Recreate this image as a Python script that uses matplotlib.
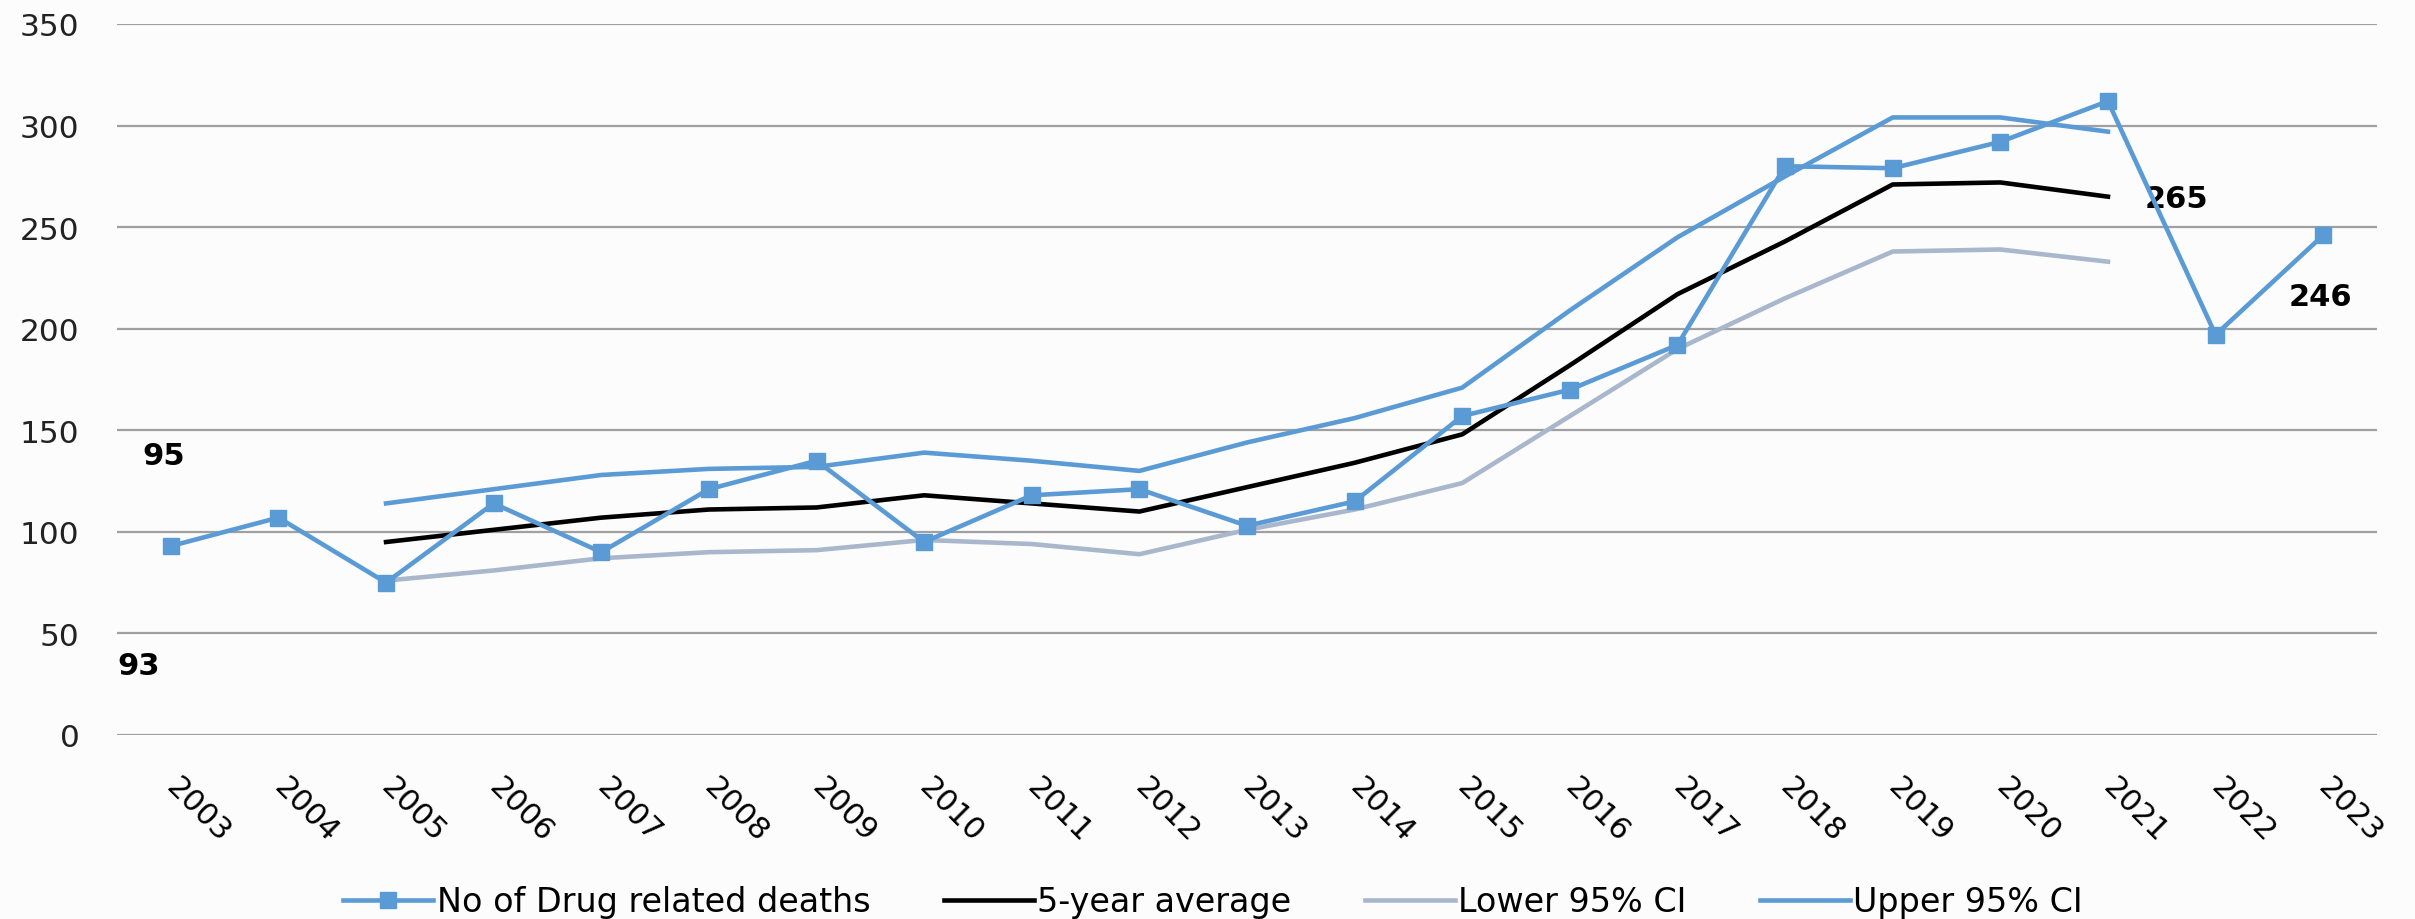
import matplotlib
matplotlib.use('Agg')
import matplotlib.pyplot as plt

# Data
years = [str(y) for y in range(2003, 2024)]
deaths = [93, 107, 75, 114, 90, 121, 135, 95, 118, 121, 103, 115, 157, 170, 192, 280, 279, 292, 312, 197, 246]

# 5-year average and 95% CI only run from 2005 to 2021
avg_years = [str(y) for y in range(2005, 2022)]
five_year_avg = [95, 101, 107, 111, 112, 118, 114, 110, 122, 134, 148, 182, 217, 243, 271, 272, 265]
lower_ci = [76, 81, 87, 90, 91, 96, 94, 89, 101, 111, 124, 157, 190, 215, 238, 239, 233]
upper_ci = [114, 121, 128, 131, 132, 139, 135, 130, 144, 156, 171, 209, 245, 275, 304, 304, 297]

blue = '#5B9BD5'
grey_blue = '#A9B7CC'

plt.rcParams['font.family'] = ['DejaVu Sans']

fig = plt.figure(figsize=(24.15, 9.2), dpi=100, facecolor='#FCFCFC')
ax = fig.add_axes([117 / 2415, 184 / 920, 2260 / 2415, 711 / 920])
ax.set_facecolor('#FCFCFC')

x_all = list(range(len(years)))
x_avg = [years.index(y) for y in avg_years]

ax.plot(x_all, deaths, color=blue, lw=3.3, marker='s', markersize=11.5,
        label='No of Drug related deaths', zorder=4)
ax.plot(x_avg, five_year_avg, color='black', lw=3.3, label='5-year average', zorder=3)
ax.plot(x_avg, lower_ci, color=grey_blue, lw=3.3, label='Lower 95% CI', zorder=2)
ax.plot(x_avg, upper_ci, color=blue, lw=3.3, label='Upper 95% CI', zorder=2)

# Data labels (placed like the original)
lab_kw = dict(textcoords='offset points', ha='center', va='center',
              fontsize=22, fontweight='bold', color='black')
ax.annotate(str(deaths[0]), xy=(x_all[0], deaths[0]), xytext=(-23, -86), **lab_kw)
ax.annotate(str(five_year_avg[0]), xy=(x_avg[0], five_year_avg[0]), xytext=(-160, 62), **lab_kw)
ax.annotate(str(five_year_avg[-1]), xy=(x_avg[-1], five_year_avg[-1]), xytext=(49, -1), **lab_kw)
ax.annotate(str(deaths[-1]), xy=(x_all[-1], deaths[-1]), xytext=(-2, -44), **lab_kw)

ax.set_xlim(-0.5, len(years) - 0.5)
ax.set_ylim(0, 350)
ax.set_yticks(range(0, 351, 50))
ax.set_xticks(x_all)
ax.set_xticklabels(years)

ax.yaxis.grid(True, color='#A0A0A0', lw=1.6)
ax.set_axisbelow(True)
for s in ax.spines.values():
    s.set_visible(False)

ax.tick_params(axis='y', length=0, pad=27, labelsize=22.5, labelcolor='#222222')
ax.tick_params(axis='x', length=0, pad=34, labelsize=22, labelcolor='black')
plt.setp(ax.get_xticklabels(), rotation=-45, ha='left', va='center', rotation_mode='anchor')

fig.legend(loc='center', bbox_to_anchor=(1213 / 2415, 1 - 903 / 920), ncol=4,
           frameon=False, fontsize=24, handlelength=2.7, handletextpad=0.1,
           columnspacing=2.2)

fig.savefig('out.png', dpi=100, facecolor=fig.get_facecolor())
